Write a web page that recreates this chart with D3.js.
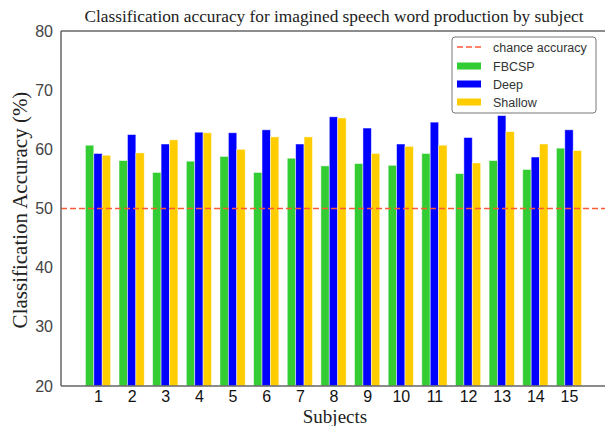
<!DOCTYPE html>
<html>
<head>
<meta charset="utf-8">
<script src="https://cdn.jsdelivr.net/npm/d3@7"></script>
<style>
  html, body { margin: 0; padding: 0; background: #fff; }
  svg { display: block; }
</style>
</head>
<body>
<script>
const subjects = [1,2,3,4,5,6,7,8,9,10,11,12,13,14,15];
const fbcsp   = [60.7, 58.1, 56.1, 58.0, 58.8, 56.1, 58.5, 57.2, 57.6, 57.3, 59.3, 55.9, 58.1, 56.6, 60.2];
const deep    = [59.3, 62.5, 60.9, 62.9, 62.8, 63.3, 60.9, 65.5, 63.6, 60.9, 64.6, 62.0, 65.7, 58.7, 63.3];
const shallow = [59.0, 59.4, 61.6, 62.8, 60.0, 62.1, 62.1, 65.3, 59.3, 60.5, 60.7, 57.7, 63.0, 60.9, 59.8];
const yTicks  = [20, 30, 40, 50, 60, 70, 80];
const chance  = 50;
const seriesNames  = ["FBCSP", "Deep", "Shallow"];
const seriesColors = ["#33cc33", "#0000ff", "#ffcc00"];
const seriesData   = [fbcsp, deep, shallow];

const W = 605, H = 426;
const mL = 61, mR = 606, mT = 31, mB = 386;

const svg = d3.select("body").append("svg").attr("width", W).attr("height", H);

const x = d3.scaleLinear().domain([-0.1, 16.1]).range([mL, mR]);
const y = d3.scaleLinear().domain([20, 80]).range([mB, mT]);
const bw = 0.25;

// bars
seriesData.forEach((vals, k) => {
  svg.append("g").selectAll("rect").data(vals).join("rect")
    .attr("x", (d, i) => x(subjects[i] + (k - 1.5) * bw))
    .attr("y", d => y(d))
    .attr("width", x(bw) - x(0))
    .attr("height", d => y(20) - y(d))
    .attr("fill", seriesColors[k])
    .attr("stroke", "#ffffff")
    .attr("stroke-opacity", 0.6)
    .attr("stroke-width", 0.8);
});

// chance line
svg.append("line")
  .attr("x1", mL).attr("x2", mR)
  .attr("y1", y(chance)).attr("y2", y(chance))
  .attr("stroke", "#ff5a36").attr("stroke-width", 1.6)
  .attr("stroke-dasharray", "6,3");

// frame
const frame = svg.append("g").attr("stroke", "#666").attr("stroke-width", 1.5).attr("fill", "none");
frame.append("line").attr("x1", mL).attr("x2", mL).attr("y1", mT).attr("y2", mB);
frame.append("line").attr("x1", mL).attr("x2", mR).attr("y1", mT).attr("y2", mT);
frame.append("line").attr("x1", mL).attr("x2", mR).attr("y1", mB).attr("y2", mB);

// y axis
const yAxis = svg.append("g").attr("transform", `translate(${mL},0)`)
  .call(d3.axisLeft(y).tickValues(yTicks).tickSize(0).tickPadding(8));
yAxis.select(".domain").remove();
yAxis.selectAll("text")
  .attr("font-family", "Liberation Sans, Arial, sans-serif")
  .attr("font-size", 16).attr("fill", "#444");

// x axis
const xAxis = svg.append("g").attr("transform", `translate(0,${mB})`)
  .call(d3.axisBottom(x).tickValues(subjects).tickSize(0).tickPadding(5).tickFormat(d3.format("d")));
xAxis.select(".domain").remove();
xAxis.selectAll("text")
  .attr("font-family", "Liberation Sans, Arial, sans-serif")
  .attr("font-size", 16).attr("fill", "#111");

// title
svg.append("text")
  .attr("x", 334).attr("y", 22).attr("text-anchor", "middle")
  .attr("font-family", "Liberation Serif, Times New Roman, serif")
  .attr("font-size", 17.3).attr("fill", "#222")
  .text("Classification accuracy for imagined speech word production by subject");

// axis labels
svg.append("text")
  .attr("x", 335).attr("y", 423).attr("text-anchor", "middle")
  .attr("font-family", "Liberation Serif, Times New Roman, serif")
  .attr("font-size", 19).attr("fill", "#222")
  .text("Subjects");

svg.append("text")
  .attr("transform", `translate(27,210) rotate(-90)`)
  .attr("text-anchor", "middle")
  .attr("font-family", "Liberation Serif, Times New Roman, serif")
  .attr("font-size", 21).attr("fill", "#222")
  .text("Classification Accuracy (%)");

// legend
const lg = svg.append("g");
lg.append("rect").attr("x", 452).attr("y", 37).attr("width", 144).attr("height", 76)
  .attr("rx", 3).attr("fill", "#fff").attr("stroke", "#777").attr("stroke-width", 1);
const ly = [47, 66, 84, 102];
lg.append("line").attr("x1", 457).attr("x2", 481).attr("y1", ly[0]).attr("y2", ly[0])
  .attr("stroke", "#ff5a36").attr("stroke-width", 1.6).attr("stroke-dasharray", "6,3");
const lgText = (t, yy) => lg.append("text").attr("x", 493).attr("y", yy + 4.5)
  .attr("font-family", "Liberation Sans, Arial, sans-serif").attr("font-size", 12.5)
  .attr("fill", "#333").text(t);
lgText("chance accuracy", ly[0]);
seriesNames.forEach((n, k) => {
  lg.append("rect").attr("x", 457).attr("y", ly[k + 1] - 3.5).attr("width", 24).attr("height", 7)
    .attr("fill", seriesColors[k]);
  lgText(n, ly[k + 1]);
});
</script>
</body>
</html>
